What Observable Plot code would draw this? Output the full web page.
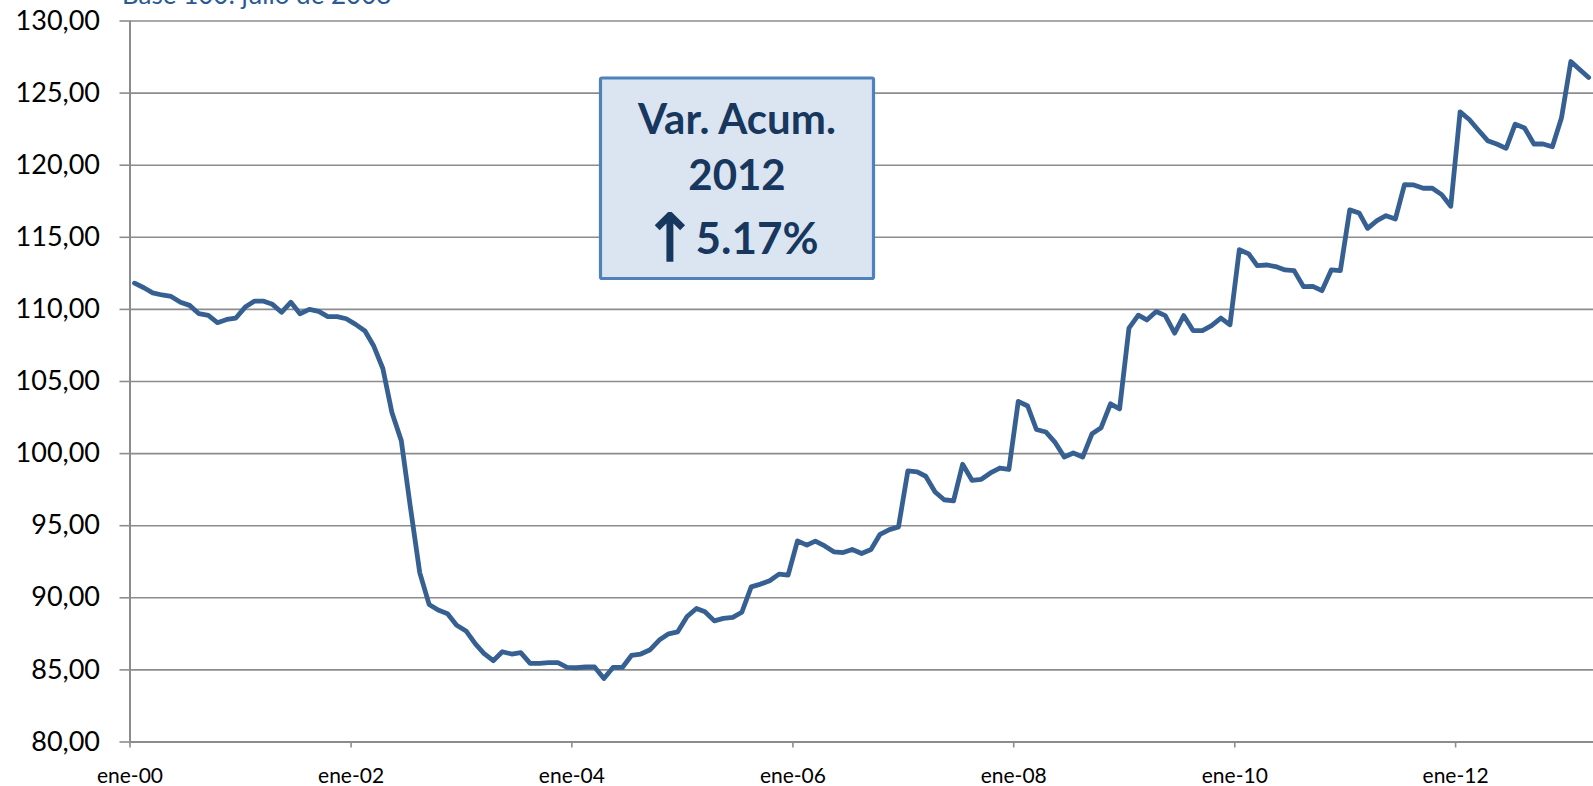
<!DOCTYPE html>
<html>
<head>
<meta charset="utf-8">
<script src="https://cdn.jsdelivr.net/npm/d3@7"></script>
<script src="https://cdn.jsdelivr.net/npm/@observablehq/plot@0.6"></script>
<style>
  html, body { margin: 0; padding: 0; background: #fff; overflow: hidden; }
  #wrap { position: relative; width: 1593px; height: 786px; overflow: hidden; }
  #title { position: absolute; left: 122px; top: -19.5px; font-family: Lato, "Open Sans", sans-serif;
           font-size: 26px; line-height: 26px; color: #2a5a94; white-space: nowrap; }
  #note { position: absolute; left: 0; top: 0; pointer-events: none; }
</style>
</head>
<body>
<div id="wrap">
  <div id="title">Base 100: julio de 2008</div>
</div>
<script>
// ---- Data (monthly index) ----
const v2000 = [111.82, 111.5, 111.15, 111.0, 110.9, 110.5, 110.28, 109.7, 109.58, 109.08, 109.3, 109.4];
const v2001 = [110.16, 110.58, 110.58, 110.35, 109.8, 110.5, 109.7, 110.0, 109.86, 109.5, 109.5, 109.35];
const v2002 = [108.96, 108.5, 107.5, 105.9, 102.85, 100.9, 96.3, 91.75, 89.54, 89.15, 88.9, 88.1];
const v2003 = [87.7, 86.8, 86.15, 85.64, 86.26, 86.1, 86.2, 85.45, 85.45, 85.5, 85.5, 85.18];
const v2004 = [85.15, 85.2, 85.2, 84.4, 85.17, 85.17, 86.0, 86.1, 86.4, 87.07, 87.5, 87.64];
const v2005 = [88.7, 89.26, 89.03, 88.4, 88.57, 88.64, 89.0, 90.76, 90.95, 91.18, 91.64, 91.57];
const v2006 = [93.95, 93.65, 93.93, 93.6, 93.19, 93.14, 93.35, 93.07, 93.35, 94.4, 94.73, 94.92];
const v2007 = [98.8, 98.73, 98.43, 97.34, 96.8, 96.72, 99.26, 98.15, 98.22, 98.66, 99.0, 98.9];
const v2008 = [103.62, 103.3, 101.67, 101.5, 100.8, 99.76, 100.04, 99.76, 101.38, 101.8, 103.45, 103.1];
const v2009 = [108.7, 109.6, 109.27, 109.85, 109.57, 108.35, 109.57, 108.53, 108.53, 108.88, 109.4, 108.93];
const v2010 = [114.15, 113.85, 113.04, 113.08, 112.97, 112.74, 112.69, 111.58, 111.6, 111.3, 112.74, 112.69];
const v2011 = [116.9, 116.69, 115.62, 116.15, 116.5, 116.27, 118.65, 118.63, 118.4, 118.4, 117.96, 117.15];
const v2012 = [123.7, 123.15, 122.44, 121.7, 121.47, 121.17, 122.85, 122.58, 121.47, 121.47, 121.28, 123.27];
const v2013 = [127.19, 126.6, 126.08];

const years = [2000, 2001, 2002, 2003, 2004, 2005, 2006, 2007, 2008, 2009, 2010, 2011, 2012, 2013];
const yearValues = [v2000, v2001, v2002, v2003, v2004, v2005, v2006, v2007, v2008, v2009, v2010, v2011, v2012, v2013];

const yTicks = [80, 85, 90, 95, 100, 105, 110, 115, 120, 125, 130];
const xTickYears = [2000, 2002, 2004, 2006, 2008, 2010, 2012];
const xTickLabels = ["ene-00", "ene-02", "ene-04", "ene-06", "ene-08", "ene-10", "ene-12"];

const noteLines = ["Var. Acum.", "2012", "5.17%"];

// ---- Build table ----
const data = [];
years.forEach((yr, k) => yearValues[k].forEach((v, m) => data.push({ date: new Date(Date.UTC(yr, m, 16)), value: v })));
const xTickDates = xTickYears.map(y => new Date(Date.UTC(y, 0, 1)));
const xStart = new Date(Date.UTC(2000, 0, 1));
const xEnd = new Date(Date.UTC(2013, 3, 1));

const gray = "#8c8c8c";
const chart = Plot.plot({
  width: 1593,
  height: 786,
  marginLeft: 129.5,
  marginRight: 0,
  marginTop: 20.5,
  marginBottom: 44.5,
  style: { fontFamily: "Lato, 'Open Sans', sans-serif", background: "transparent", overflow: "visible" },
  x: { type: "utc", domain: [xStart, xEnd] },
  y: { domain: [80, 130] },
  marks: [
    Plot.gridY(yTicks, { stroke: gray, strokeOpacity: 1, strokeWidth: 1.6 }),
    Plot.axisY(yTicks, {
      tickSize: 10, tickPadding: 20, fontSize: 27, fill: "#000", stroke: gray, strokeWidth: 1.6,
      tickFormat: d => d.toFixed(2).replace(".", ","), label: null
    }),
    Plot.axisX(xTickDates, {
      tickSize: 6, tickPadding: 20, fontSize: 21, fill: "#000", stroke: gray, strokeWidth: 1.6,
      tickFormat: d => xTickLabels[xTickYears.indexOf(d.getUTCFullYear())], label: null
    }),
    Plot.ruleX([xStart], { stroke: gray, strokeWidth: 2 }),
    Plot.ruleY([80], { stroke: gray, strokeWidth: 2 }),
    Plot.line(data, { x: "date", y: "value", stroke: "#376092", strokeWidth: 4.8, strokeLinejoin: "round", strokeLinecap: "round" })
  ]
});
const wrap = document.getElementById("wrap");
wrap.insertBefore(chart, wrap.firstChild);

// ---- Annotation box ----
const ns = "http://www.w3.org/2000/svg";
const note = document.createElementNS(ns, "svg");
note.setAttribute("id", "note");
note.setAttribute("width", 1593);
note.setAttribute("height", 786);
const rect = document.createElementNS(ns, "rect");
rect.setAttribute("x", 600.5); rect.setAttribute("y", 78); rect.setAttribute("width", 273); rect.setAttribute("height", 200.5);
rect.setAttribute("fill", "#dbe5f1"); rect.setAttribute("stroke", "#4f81bd"); rect.setAttribute("stroke-width", 3.2);
rect.setAttribute("rx", 1.5);
note.appendChild(rect);
const baselines = [133.5, 190, 253.5];
noteLines.forEach((t, i) => {
  const tx = document.createElementNS(ns, "text");
  tx.setAttribute("x", i === 2 ? 757 : 737);
  tx.setAttribute("y", baselines[i]);
  tx.setAttribute("text-anchor", "middle");
  tx.setAttribute("font-family", "Lato, 'Open Sans', sans-serif");
  tx.setAttribute("font-weight", "700");
  tx.setAttribute("font-size", i === 2 ? 44 : 42);
  tx.setAttribute("fill", "#17375e");
  tx.textContent = t;
  note.appendChild(tx);
});
const arrow = document.createElementNS(ns, "text");
arrow.setAttribute("x", 670);
arrow.setAttribute("y", 261);
arrow.setAttribute("text-anchor", "middle");
arrow.setAttribute("font-family", "'DejaVu Sans', sans-serif");
arrow.setAttribute("font-weight", "400");
arrow.setAttribute("font-size", 66);
arrow.setAttribute("fill", "#17375e");
arrow.setAttribute("stroke", "#17375e");
arrow.setAttribute("stroke-width", 1.5);
arrow.textContent = "↑";
note.appendChild(arrow);
wrap.appendChild(note);
</script>
</body>
</html>
